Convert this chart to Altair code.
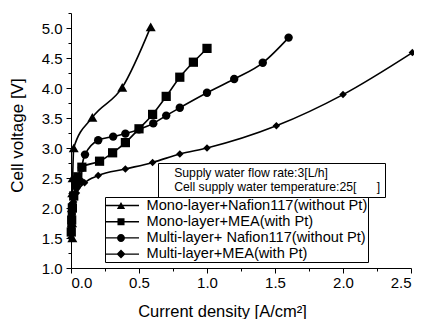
import altair as alt
import pandas as pd

names = [
    "Mono-layer+Nafion117(without Pt)",
    "Mono-layer+MEA(with Pt)",
    "Multi-layer+ Nafion117(without Pt)",
    "Multi-layer+MEA(with Pt)",
]

tri_x = [0.01, 0.008, 0.006, 0.009, 0.012, 0.02, 0.157, 0.377, 0.586]
tri_y = [1.5, 1.75, 2.0, 2.25, 2.5, 3.0, 3.51, 4.01, 5.02]

sq_x = [0.002, 0.005, 0.01, 0.02, 0.035, 0.05, 0.08, 0.21, 0.306, 0.4, 0.5, 0.6, 0.7, 0.8, 0.9, 1.0]
sq_y = [1.6, 1.8, 2.0, 2.2, 2.4, 2.52, 2.68, 2.78, 2.92, 3.09, 3.32, 3.56, 3.86, 4.18, 4.43, 4.66]

ci_x = [0.003, 0.006, 0.01, 0.02, 0.04, 0.07, 0.08, 0.103, 0.2, 0.31, 0.4, 0.5, 0.605, 0.7, 0.8, 1.0, 1.2, 1.41, 1.6]
ci_y = [1.7, 1.9, 2.05, 2.2, 2.35, 2.44, 2.67, 2.89, 3.13, 3.19, 3.24, 3.31, 3.41, 3.54, 3.67, 3.92, 4.15, 4.42, 4.84]

di_x = [0.0, 0.003, 0.006, 0.01, 0.02, 0.04, 0.1, 0.2, 0.4, 0.6, 0.8, 1.0, 1.51, 2.0, 2.51]
di_y = [1.5, 1.7, 1.85, 2.0, 2.1, 2.25, 2.42, 2.54, 2.65, 2.76, 2.9, 3.0, 3.37, 3.89, 4.59]

NB = "\u00a0"
notes = [
    "Supply water flow rate:3[L/h]",
    "Cell supply water temperature:25[" + NB * 6 + "]" + NB * 2,
]

x_ticks = [i * 0.25 for i in range(11)]
y_ticks = [1.0 + i * 0.25 for i in range(18)]

rows = []
for n, xs, ys in zip(names, [tri_x, sq_x, ci_x, di_x], [tri_y, sq_y, ci_y, di_y]):
    for i, (a, b) in enumerate(zip(xs, ys)):
        rows.append({"series": n, "x": a, "y": b, "order": i})
df = pd.DataFrame(rows)

FONT = "Liberation Sans"
major = "abs(datum.value*2 - round(datum.value*2)) < 0.001"

xscale = alt.Scale(domain=[0, 2.5], nice=False, zero=False)
yscale = alt.Scale(domain=[1.0, 5.25], nice=False, zero=False)

xaxis = alt.Axis(
    values=x_ticks, labelExpr=f"{major} ? format(datum.value, '.1f') : ''",
    tickSize={"condition": {"test": major, "value": 5}, "value": 3},
    title="Current density [A/cm\u00b2]", titleX=151, titleY=43, titleBaseline="middle",
    titleFontSize=16.5, grid=False, labelPadding=2,
)
yaxis = alt.Axis(
    values=y_ticks, labelExpr=f"{major} ? format(datum.value, '.1f') : ''",
    tickSize={"condition": {"test": major, "value": 5}, "value": 3},
    title="Cell voltage [V]", titleX=-54, titleY=122, titleBaseline="middle",
    grid=False, labelPadding=4,
)

X = alt.X("x:Q", scale=xscale, axis=xaxis)
Y = alt.Y("y:Q", scale=yscale, axis=yaxis)

lines = alt.Chart(df).mark_line(interpolate="monotone", color="black", strokeWidth=1.6).encode(
    x=X, y=Y, detail="series:N", order="order:Q"
)

points = alt.Chart(df).mark_point(filled=True, color="black", opacity=1).encode(
    x=X, y=Y,
    shape=alt.Shape("series:N", scale=alt.Scale(domain=names, range=["triangle-up", "square", "circle", "diamond"]), legend=None),
    size=alt.Size("series:N", scale=alt.Scale(domain=names, range=[100, 56, 72, 100]), legend=None),
)

line_part = "M-1,-0.09H3.4V0.09H-1Z"
legend_paths = [
    line_part + "M1,-0.48L1.55,0.48L0.45,0.48Z",
    line_part + "M0.53,-0.47H1.47V0.47H0.53Z",
    line_part + "M1.53,0A0.53,0.53,0,1,1,0.47,0A0.53,0.53,0,1,1,1.53,0Z",
    line_part + "M1,-0.6L1.6,0L1,0.6L0.4,0Z",
]

legend_layer = alt.Chart(df).transform_filter("false").mark_point(filled=True, color="black", opacity=1).encode(
    x=X, y=Y,
    shape=alt.Shape(
        "series:N",
        scale=alt.Scale(domain=names, range=legend_paths),
        legend=alt.Legend(
            title=None, orient="none", legendX=34, legendY=184,
            symbolSize=225, symbolFillColor="black", symbolStrokeWidth=0.0001,
            labelFont=FONT, labelFontSize=14.6, labelColor="black", labelLimit=500,
            labelOffset=25, padding=0.5, rowPadding=1.2,
            strokeColor="black", fillColor="white",
        ),
    ),
)

note_df = pd.DataFrame({"note": notes, "x": [0.0, 0.0], "y": [1.0, 1.0]})
note_layer = alt.Chart(note_df).transform_filter("false").mark_point(filled=True, opacity=1, size=0.0001, strokeWidth=0.0001).encode(
    x=X, y=Y,
    color=alt.Color(
        "note:N",
        scale=alt.Scale(domain=notes, range=["black", "black"]),
        legend=alt.Legend(
            title=None, orient="none", legendX=87, legendY=150,
            symbolSize=0.0001, symbolOpacity=0.0001, symbolStrokeWidth=0.0001, symbolType="circle",
            labelFont=FONT, labelFontSize=12.2, labelColor="black", labelLimit=500,
            labelOffset=0, padding=4, rowPadding=0.5,
            strokeColor="black", fillColor="white",
        ),
    ),
)

chart = alt.layer(lines, points, note_layer, legend_layer).resolve_scale(
    shape="independent"
).properties(
    width=340, height=255,
    background="white",
    autosize=alt.AutoSizeParams(type="none"),
    padding={"left": 63, "top": 5, "right": 3, "bottom": 51},
).configure_view(stroke=None).configure_axis(
    domainColor="black", tickColor="black", labelColor="black", titleColor="black",
    labelFont=FONT, titleFont=FONT, labelFontSize=15, titleFontSize=17,
    titleFontWeight="normal", domainWidth=1, tickWidth=1,
)

chart.save("out.html", embed_options={"renderer": "svg", "actions": False})
